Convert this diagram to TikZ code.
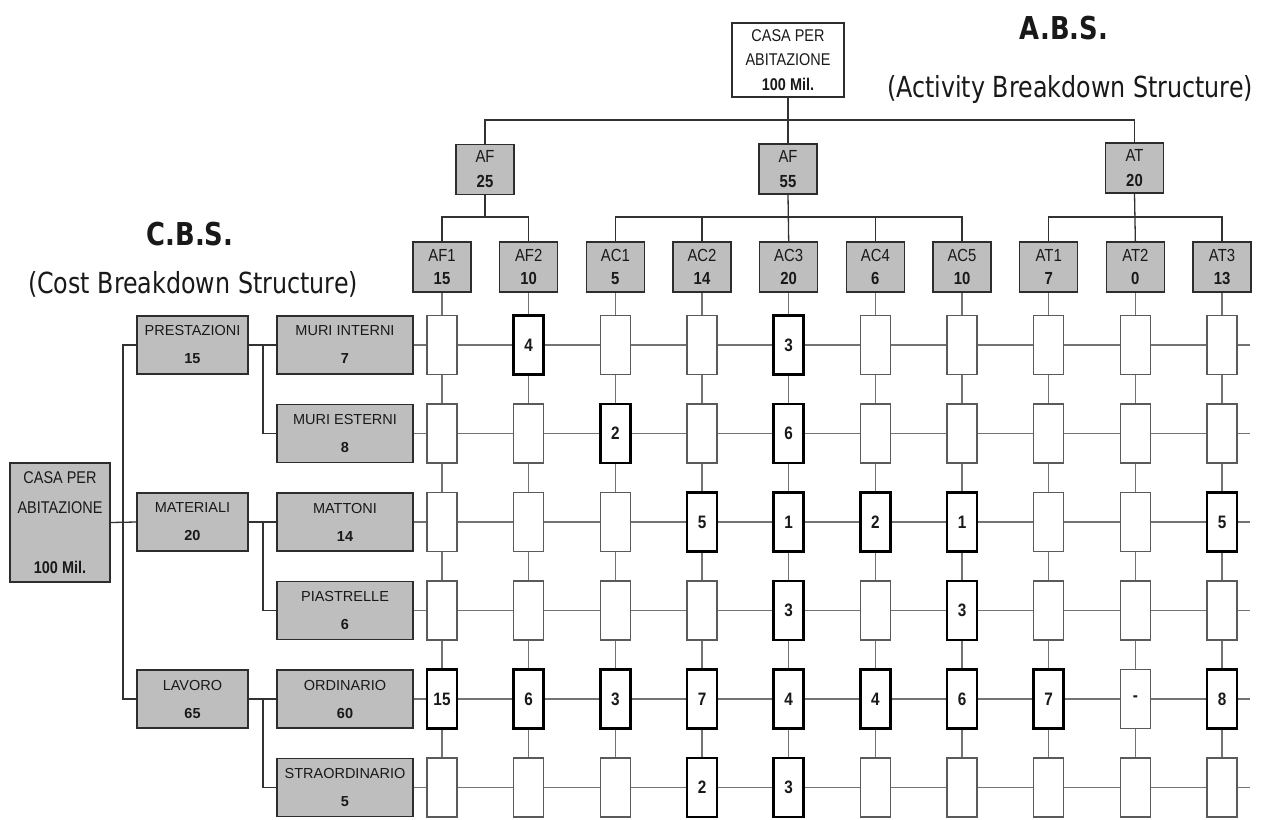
\documentclass[tikz,border=0pt]{standalone}
\usepackage{fontspec}
\setmainfont{Liberation Sans}
\newfontfamily\narrowfont{Liberation Sans}[FakeStretch=0.85]
\newfontfamily\titlefont{DejaVu Sans}[FakeStretch=0.82]
\usetikzlibrary{backgrounds}
\definecolor{boxgray}{RGB}{190,190,190}
\definecolor{boxline}{RGB}{45,45,45}
\definecolor{gridgray}{RGB}{115,115,115}
\definecolor{cellgray}{RGB}{90,90,90}
\definecolor{treeline}{RGB}{50,50,50}
\definecolor{textc}{RGB}{25,25,25}
\begin{document}
\begin{tikzpicture}[x=1pt,y=-1pt,
  gbox/.style={draw=boxline, fill=boxgray, line width=1.2pt, inner sep=0pt, align=center, text=textc},
  rootbox/.style={gbox, fill=white, minimum width=112, minimum height=74, font=\narrowfont\fontsize{17}{24.5}\selectfont},
  lroot/.style={gbox, minimum width=100, minimum height=119, font=\narrowfont\fontsize{17}{30}\selectfont},
  midbox/.style={gbox, minimum width=58, minimum height=50, font=\narrowfont\fontsize{17.5}{25}\selectfont},
  hdr/.style={gbox, minimum width=58, minimum height=50, font=\narrowfont\fontsize{17.5}{23}\selectfont},
  cbsa/.style={gbox, minimum width=111, minimum height=58, font=\fontsize{14.5}{28}\selectfont},
  cbsb/.style={gbox, minimum width=136, minimum height=58, font=\fontsize{14.5}{28}\selectfont},
  cell/.style={draw=cellgray, fill=white, line width=1.2pt, minimum width=30, minimum height=59, inner sep=0pt, text=textc, font=\narrowfont\bfseries\fontsize{18}{20}\selectfont},
  hcell/.style={cell, draw=black, line width=2.6pt},
  tree/.style={draw=treeline, line width=1.3pt},
  gridline/.style={draw=gridgray, line width=1.2pt},
  ttl/.style={anchor=base, text=textc, font=\titlefont\bfseries\fontsize{31.5}{34}\selectfont},
  subttl/.style={anchor=base, text=textc, font=\titlefont\fontsize{29}{32}\selectfont}
]
\useasboundingbox (0,0) rectangle (1263,819);

% titles
\node[ttl] (tA) at (1064,39) {A.B.S.};
\node[subttl] (tAs) at (1070,97) {(Activity Breakdown Structure)};
\node[ttl] (tC) at (190,245) {C.B.S.};
\node[subttl] (tCs) at (193,293) {(Cost Breakdown Structure)};

% A.B.S. tree
\node[rootbox] (ra) at (788,60) {CASA PER\\ABITAZIONE\\\textbf{100 Mil.}};
\node[midbox] (m1) at (485,169.5) {AF\\\textbf{25}};
\node[midbox] (m2) at (788,169) {AF\\\textbf{55}};
\node[midbox] (m3) at (1134.5,168) {AT\\\textbf{20}};
\foreach \a/\b [count=\c] in {AF1/15,AF2/10,AC1/5,AC2/14,AC3/20,AC4/6,AC5/10,AT1/7,AT2/0,AT3/13}{
  \pgfmathsetmacro\xx{442+(\c-1)*86.67}
  \node[hdr] (h\c) at (\xx,267) {\a\\\textbf{\b}};
}
\coordinate (busA) at (0,120);
\coordinate (busB) at (0,217);
\draw[tree] (ra.south) -- (m2.north);
\draw[tree] (m1.north) -- (m1.north |- busA) -- (m3.north |- busA) -- (m3.north);
\draw[tree] (m1.south) -- (m1.south |- busB);
\draw[tree] (h1.north) -- (h1.north |- busB) -- (h2.north |- busB) -- (h2.north);
\draw[tree] (m2.south) -- (h5.north);
\draw[tree] (h3.north) -- (h3.north |- busB) -- (h7.north |- busB) -- (h7.north);
\draw[tree] (h4.north) -- (h4.north |- busB);
\draw[tree] (h6.north) -- (h6.north |- busB);
\draw[tree] (m3.south) -- (h9.north);
\draw[tree] (h8.north) -- (h8.north |- busB) -- (h10.north |- busB) -- (h10.north);

% C.B.S. tree
\node[lroot] (cr) at (60,522.5) {CASA PER\\ABITAZIONE\\\mbox{}\\\textbf{100 Mil.}};
\node[cbsa] (p1) at (192.5,345) {PRESTAZIONI\\\textbf{15}};
\node[cbsa] (p2) at (192.5,522) {MATERIALI\\\textbf{20}};
\node[cbsa] (p3) at (192.5,699) {LAVORO\\\textbf{65}};
\foreach \lab/\val [count=\r] in {MURI INTERNI/7,MURI ESTERNI/8,MATTONI/14,PIASTRELLE/6,ORDINARIO/60,STRAORDINARIO/5}{
  \pgfmathsetmacro\yy{345+(\r-1)*88.5}
  \node[cbsb] (q\r) at (345,\yy) {\lab\\\textbf{\val}};
  \coordinate (re\r) at (1250,\yy);
}
\coordinate (bus1) at (123,0);
\coordinate (bus2) at (263,0);
\draw[tree] (cr.east) -- (p2.west);
\draw[tree] (p1.west) -- (p1.west -| bus1) -- (p3.west -| bus1) -- (p3.west);
\draw[tree] (p1.east) -- (q1.west);
\draw[tree] (q1.west -| bus2) -- (q2.west -| bus2) -- (q2.west);
\draw[tree] (p2.east) -- (q3.west);
\draw[tree] (q3.west -| bus2) -- (q4.west -| bus2) -- (q4.west);
\draw[tree] (p3.east) -- (q5.west);
\draw[tree] (q5.west -| bus2) -- (q6.west -| bus2) -- (q6.west);

% matrix cells
\foreach \vals [count=\r] in {{0,4,0,0,3,0,0,0,0,0},{0,0,2,0,6,0,0,0,0,0},{0,0,0,5,1,2,1,0,0,5},{0,0,0,0,3,0,3,0,0,0},{15,6,3,7,4,4,6,7,-1,8},{0,0,0,2,3,0,0,0,0,0}}{
  \pgfmathsetmacro\yy{345+(\r-1)*88.5}
  \foreach \v [count=\c] in \vals {
    \pgfmathsetmacro\xx{442+(\c-1)*86.67}
    \ifnum\v=0
      \node[cell] (c-\r-\c) at (\xx,\yy) {};
    \else\ifnum\v<0
      \node[cell] (c-\r-\c) at (\xx,\yy) {-};
    \else
      \node[hcell] (c-\r-\c) at (\xx,\yy) {\v};
    \fi\fi
  }
}

% grid lines behind cells
\begin{scope}[on background layer]
  \fill[white] (0,0) rectangle (1263,819);
  \foreach \r in {1,...,6}{ \draw[gridline] (q\r.east) -- (re\r); }
  \foreach \c in {1,...,10}{ \draw[gridline] (h\c.south) -- (c-6-\c.center); }
\end{scope}
\end{tikzpicture}
\end{document}
